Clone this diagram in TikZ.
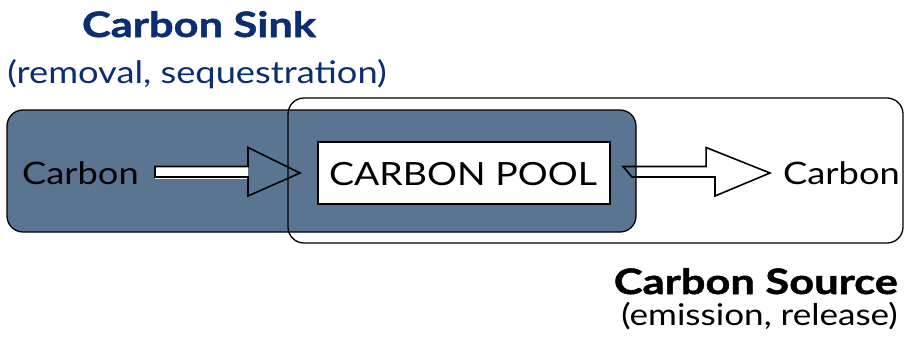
\documentclass[tikz,border=0pt]{standalone}
\usepackage{fontspec}
\usetikzlibrary{calc}
\setmainfont{Lato}[FakeStretch=1.17]
\newfontfamily\heavy{Lato}[FakeStretch=1.24,BoldFeatures={FakeBold=1.4}]
\definecolor{sinkfill}{HTML}{5A7592}
\definecolor{sinkblue}{HTML}{0B2E72}
\begin{document}
\begin{tikzpicture}[x=1pt,y=-1pt,
  boxline/.style={draw=black,line width=1.3pt,rounded corners=16pt},
  arrowline/.style={draw=black,line width=1.6pt,line join=miter},
  lbl/.style={inner sep=0pt,font=\fontsize{31}{36}\selectfont},
  ttl/.style={inner sep=0pt,font=\fontsize{35}{40}\selectfont\heavy\bfseries}]
\useasboundingbox (0,0) rectangle (908,349);
% shaded sink box
\path[boxline,fill=sinkfill] (7,110) rectangle (636,232);
% source box (outline)
\path[boxline] (288,98) rectangle (903,243);
% carbon pool
\node[draw=black,line width=2.2pt,fill=white,minimum width=292pt,minimum height=62pt,inner sep=0pt] (pool) at (464,173) {};
\node[lbl,anchor=base,font=\fontsize{32}{36}\selectfont] (pooltxt) at (463,185) {CARBON POOL};
% labels
\node[lbl,anchor=base west] (cin) at (22,184) {Carbon};
\node[lbl,anchor=base east] (cout) at (900,184) {Carbon};
% arrow 1
\coordinate (a1s) at (155,173);
\coordinate (a1e) at (300,173);
\fill[white] (155,166) rectangle (248,179);
\path[arrowline] (a1s) ++(0,-6.5) -- ++(93,0) -- ++(0,-19) -- (a1e) -- ++(-52,23) -- ++(0,-19) -- ++(-93,0) -- cycle;
% arrow 2
\coordinate (a2s) at (pool.east);
\coordinate (a2e) at (770,173);
\path[arrowline] ($(a2s)+(12,-6.5)$) -- ++(83,0) -- ++(0,-19) -- (a2e) -- ++(-55,23) -- ++(0,-19) -- ++(-83,0) -- cycle;
% titles
\node[ttl,text=sinkblue,anchor=base] (sink) at (199,37) {Carbon Sink};
\node[lbl,text=sinkblue,anchor=base] (sinksub) at (197,83) {(removal, sequestration)};
\node[ttl,anchor=base east] (src) at (898,294) {Carbon Source};
\node[lbl,anchor=base east,font=\fontsize{30}{34}\selectfont] (srcsub) at (898,325) {(emission, release)};
\end{tikzpicture}
\end{document}
